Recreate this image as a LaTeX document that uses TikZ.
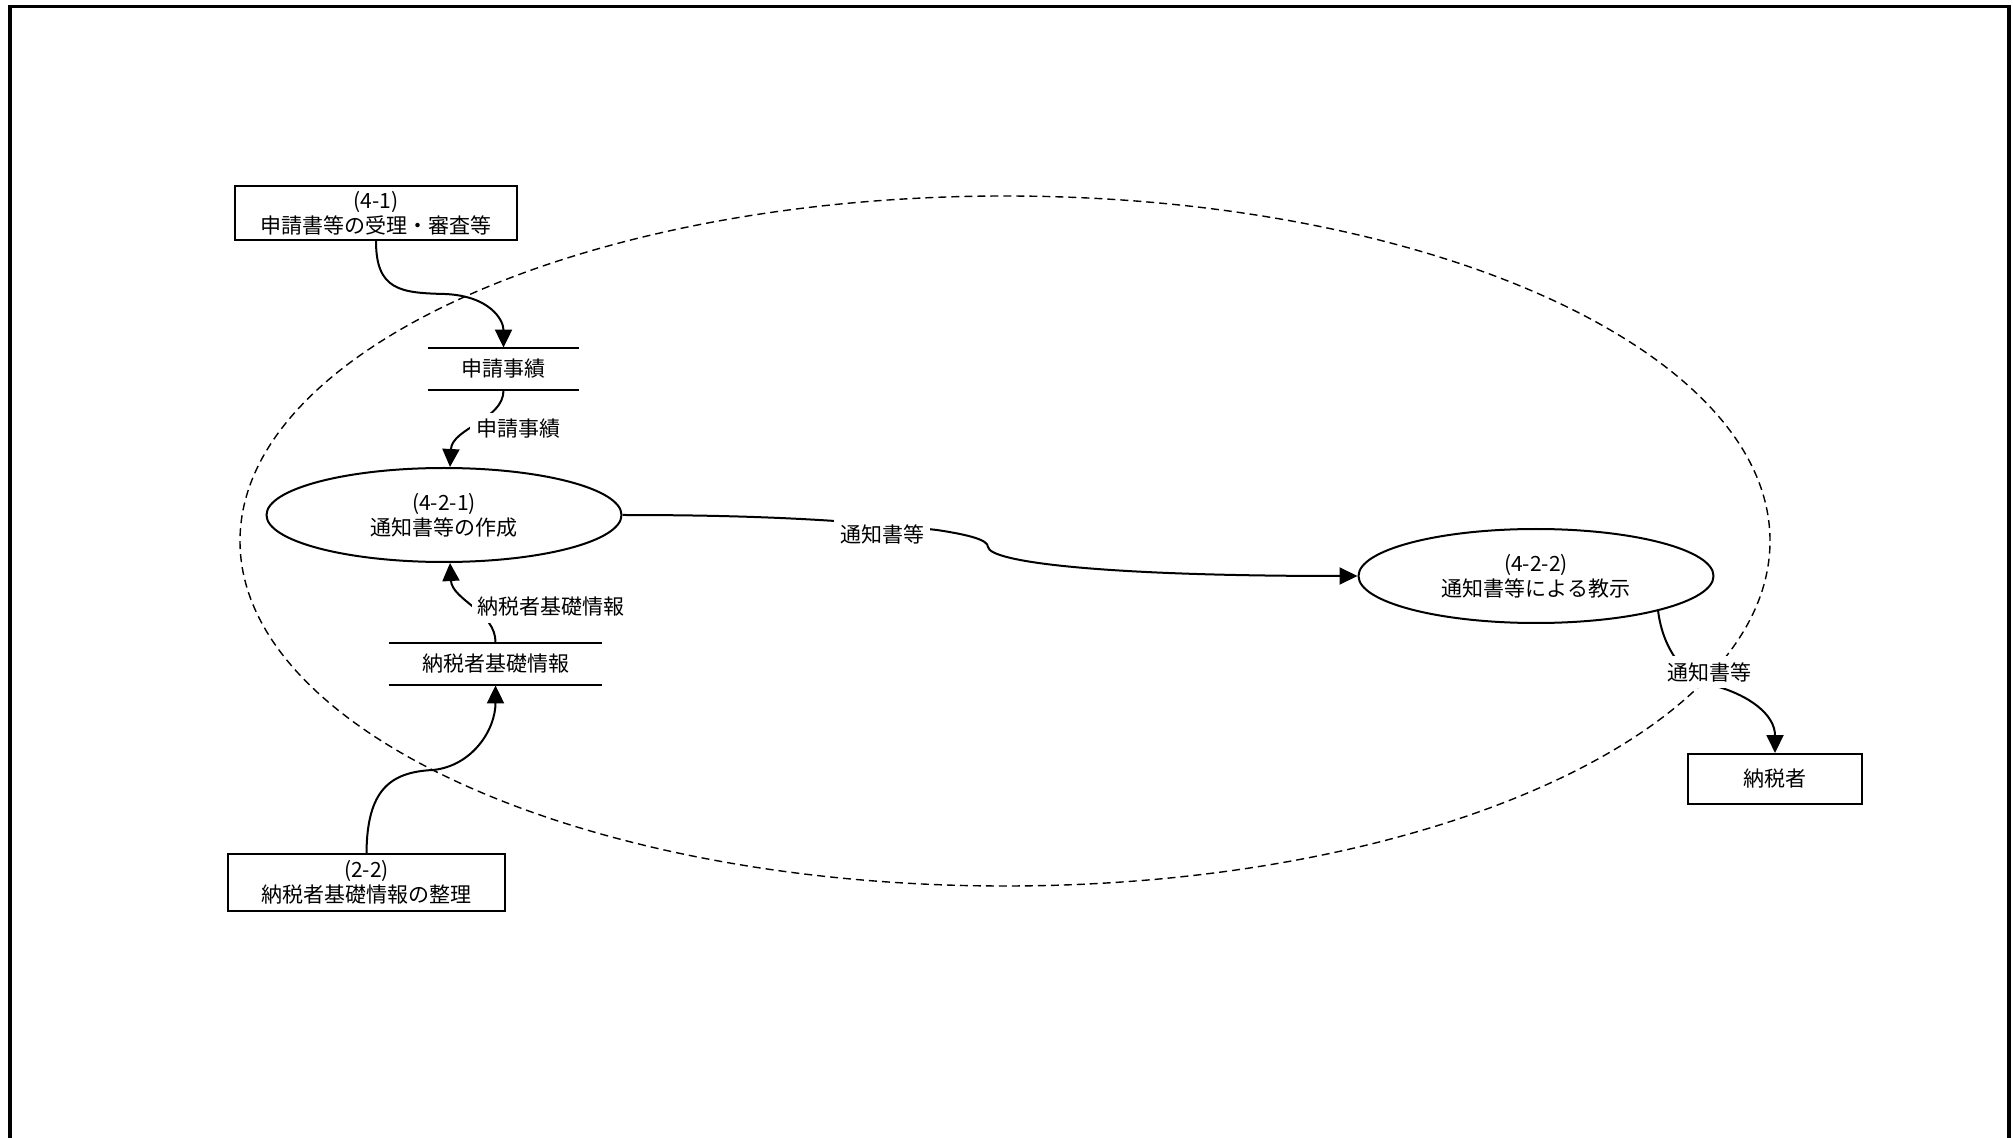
\documentclass[tikz,border=0pt]{standalone}
\usepackage{fontspec}
\setmainfont{Noto Sans CJK JP}
\usetikzlibrary{arrows.meta,shapes.geometric}
\begin{document}
\begin{tikzpicture}[x=0.5pt,y=-0.5pt,
  every node/.style={font=\fontsize{10.5pt}{12.5pt}\selectfont, align=center},
  box/.style={draw, line width=1pt, inner sep=0pt},
  proc/.style={draw, ellipse, line width=1pt, inner sep=0pt, minimum width=177.5pt, minimum height=47pt},
  store/.style={inner sep=0pt},
  flow/.style={line width=1pt, -{Triangle[length=9pt,width=8.5pt]}},
  lab/.style={fill=white, inner sep=3pt},
  boundary/.style={dashed, line width=0.7pt, dash pattern=on 4pt off 2.5pt},
]
\useasboundingbox (0,0) rectangle (2013,1138);
\draw[line width=1.7pt] (10,1138) -- (10,6.5) -- (2009,6.5) -- (2009,1138);

% system boundary
\draw[boundary] (1005,541) ellipse [x radius=382.5pt, y radius=172.5pt];

% nodes
\node[box, minimum width=141pt, minimum height=27pt] (b41) at (376,213) {(4-1)\\申請書等の受理・審査等};
\node[store, minimum width=75.5pt, minimum height=21pt] (s1) at (503.5,369) {申請事績};
\draw[line width=1pt] (s1.north west) -- (s1.north east) (s1.south west) -- (s1.south east);
\node[proc] (e1) at (444,515) {(4-2-1)\\通知書等の作成};
\node[store, minimum width=106.5pt, minimum height=21pt] (s2) at (495.5,664) {納税者基礎情報};
\draw[line width=1pt] (s2.north west) -- (s2.north east) (s2.south west) -- (s2.south east);
\node[box, minimum width=138.5pt, minimum height=28.5pt] (b22) at (366.5,882.5) {(2-2)\\納税者基礎情報の整理};
\node[proc] (e2) at (1536,576) {(4-2-2)\\通知書等による教示};
\node[box, minimum width=87pt, minimum height=25pt] (tp) at (1775,779) {納税者};

% connectors
\draw[flow] (b41.south) .. controls (376,290) and (400,293) .. (445,294) .. controls (490,296) and (503.5,320) .. (s1.north);

\draw[flow] (s1.south) .. controls (503.5,420) and (452,428) .. ([xshift=3pt]e1.north);
\node[lab] (l1) at (518,429) {申請事績};

\draw[flow] (s2.north) .. controls (496,612) and (452,600) .. ([xshift=3pt]e1.south);
\node[lab] (l2) at (551,607) {納税者基礎情報};

\draw[flow] (b22.north) .. controls (367,790) and (390,772) .. (433,770) .. controls (472,766) and (495.5,730) .. (s2.south);

\draw[flow] (e1.east) .. controls (730,515) and (830,518) .. (937,530) .. controls (970,535) and (988,540) .. (988,547) .. controls (990,562) and (1100,576) .. (e2.west);
\node[lab] (l3) at (882,534) {通知書等};

\draw[flow] (e2.-16) .. controls (1663,650) and (1685,678) .. (1712,685) .. controls (1750,695) and (1775,715) .. (tp.north);
\node[lab] (l4) at (1709,672) {通知書等};
\end{tikzpicture}
\end{document}
